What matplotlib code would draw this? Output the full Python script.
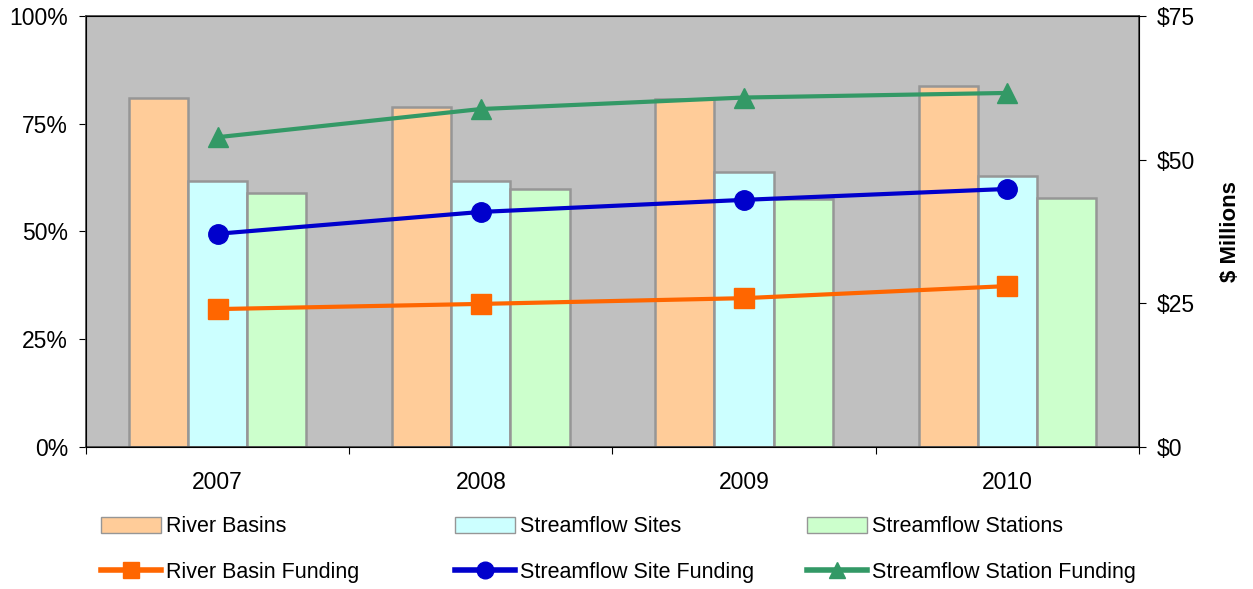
import numpy as np
import matplotlib
matplotlib.use("Agg")
import matplotlib.pyplot as plt
from matplotlib.patches import Patch
from matplotlib.lines import Line2D

plt.rcParams["font.family"] = ["Liberation Sans", "DejaVu Sans"]

years = ["2007", "2008", "2009", "2010"]
river_basins = [81.0, 78.9, 80.7, 83.8]
streamflow_sites = [61.7, 61.7, 63.8, 62.9]
streamflow_stations = [58.9, 59.9, 57.5, 57.8]
river_basin_funding = [24.0, 24.9, 25.9, 28.0]
site_funding = [37.1, 40.9, 43.0, 44.9]
station_funding = [53.9, 58.8, 60.8, 61.6]

fig = plt.figure(figsize=(12.53, 5.89), dpi=100)
ax = fig.add_axes([0.0686, 0.241, 0.8404, 0.732])
ax.set_facecolor("#C0C0C0")

x = np.arange(len(years)) + 0.5
w = 0.225
edge = "#969696"
ax.bar(x - w, river_basins, w, color="#FFCC99", edgecolor=edge, linewidth=1.8)
ax.bar(x, streamflow_sites, w, color="#CCFFFF", edgecolor=edge, linewidth=1.8)
ax.bar(x + w, streamflow_stations, w, color="#CCFFCC", edgecolor=edge, linewidth=1.8)

ax.set_xlim(0, 4)
ax.set_ylim(0, 100)
ax.set_yticks([0, 25, 50, 75, 100])
ax.set_yticklabels(["0%", "25%", "50%", "75%", "100%"], fontsize=16.5)
ax.set_xticks([0, 1, 2, 3, 4])
ax.set_xticklabels([])
ax.set_xticks(x, minor=True)
ax.set_xticklabels(years, minor=True, fontsize=16.5)
ax.tick_params(axis="x", which="minor", length=0, pad=17)
ax.tick_params(axis="x", which="major", length=5, direction="out")
ax.tick_params(axis="y", length=5, direction="out", pad=8)
for s in ax.spines.values():
    s.set_color("#404040")
    s.set_linewidth(1.2)

ax2 = ax.twinx()
ax2.plot(x, river_basin_funding, color="#FF6600", lw=3, marker="s", ms=14, zorder=3)
ax2.plot(x, site_funding, color="#0000CC", lw=3, marker="o", ms=14, zorder=3)
ax2.plot(x, station_funding, color="#339966", lw=3, marker="^", ms=14, zorder=3)
ax2.set_ylim(0, 75)
ax2.set_yticks([0, 25, 50, 75])
ax2.set_yticklabels(["$0", "$25", "$50", "$75"], fontsize=16.5)
ax2.tick_params(axis="y", length=5, direction="out", pad=8)
ax2.set_ylabel("\\$ Millions", fontsize=16, fontweight="bold", labelpad=18)
ax2.spines["right"].set_color("black")

cols = [
    (0.072, Patch(facecolor="#FFCC99", edgecolor=edge), "River Basins",
     Line2D([], [], color="#FF6600", lw=4, marker="s", ms=12), "River Basin Funding"),
    (0.3545, Patch(facecolor="#CCFFFF", edgecolor=edge), "Streamflow Sites",
     Line2D([], [], color="#0000CC", lw=4, marker="o", ms=12), "Streamflow Site Funding"),
    (0.6355, Patch(facecolor="#CCFFCC", edgecolor=edge), "Streamflow Stations",
     Line2D([], [], color="#339966", lw=4, marker="^", ms=12), "Streamflow Station Funding"),
]
for xpos, h1, l1, h2, l2 in cols:
    fig.legend([h1, h2], [l1, l2], loc="upper left", bbox_to_anchor=(xpos, 0.142),
               frameon=False, fontsize=15.5, handlelength=2.8, handleheight=0.75,
               handletextpad=0.2, labelspacing=1.15, borderpad=0)

fig.savefig("out.png", dpi=100)
